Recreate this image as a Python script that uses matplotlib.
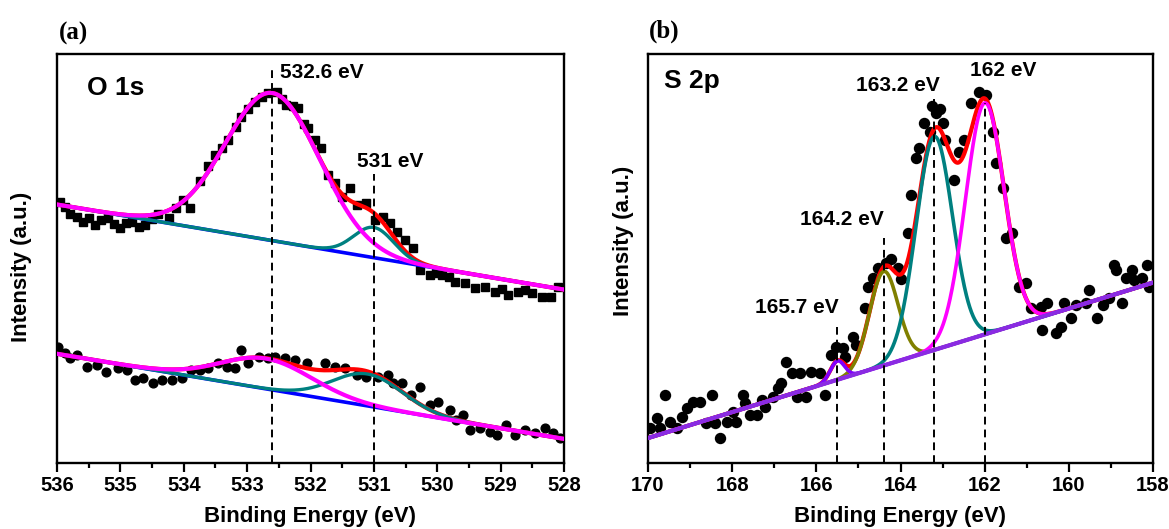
import numpy as np
import matplotlib
matplotlib.use("Agg")
import matplotlib.pyplot as plt
from matplotlib.ticker import MultipleLocator

plt.rcParams['font.family'] = ['Liberation Sans', 'DejaVu Sans']
plt.rcParams['font.weight'] = 'bold'

# ---------------- Panel (a): O 1s ----------------
# upper spectrum (squares)
a_up_x = [535.95, 535.87, 535.79, 535.69, 535.59, 535.50, 535.40, 535.30, 535.19, 535.10,
          535.00, 534.91, 534.82, 534.71, 534.61, 534.50, 534.40, 534.24, 534.12, 534.01,
          533.90, 533.74, 533.62, 533.51, 533.40, 533.30, 533.17, 533.09, 532.98, 532.88,
          532.77, 532.67, 532.53, 532.45, 532.38, 532.28, 532.19, 532.10, 532.04, 531.93,
          531.83, 531.72, 531.62, 531.51, 531.38, 531.27, 531.12, 530.98, 530.85, 530.75,
          530.64, 530.51, 530.38, 530.27, 530.12, 530.02, 529.93, 529.82, 529.72, 529.56,
          529.41, 529.25, 529.09, 528.98, 528.88, 528.72, 528.62, 528.51, 528.35, 528.20,
          528.09]
a_up_y = [63.9, 62.5, 61.0, 60.2, 59.0, 60.0, 58.2, 59.3, 59.8, 58.5,
          57.4, 58.6, 59.0, 57.6, 58.2, 59.6, 61.0, 59.8, 62.4, 64.3,
          62.3, 69.0, 72.5, 75.3, 77.0, 79.0, 82.2, 84.7, 86.5, 88.3,
          89.6, 90.4, 90.8, 89.0, 87.5, 87.2, 86.7, 83.0, 81.8, 79.0,
          77.0, 70.4, 68.5, 65.1, 67.2, 63.1, 63.5, 59.4, 60.2, 58.6,
          56.6, 54.5, 52.5, 47.2, 46.0, 46.5, 46.0, 45.5, 44.3, 43.9,
          42.7, 43.1, 41.9, 42.5, 41.1, 41.9, 42.3, 41.5, 40.7, 40.7,
          43.1]
# lower spectrum (circles)
a_lo_x = [535.98, 535.87, 535.79, 535.69, 535.53, 535.37, 535.22, 535.03, 534.90, 534.77,
          534.64, 534.48, 534.35, 534.19, 534.03, 533.88, 533.74, 533.61, 533.46, 533.32,
          533.19, 533.09, 532.98, 532.82, 532.67, 532.56, 532.40, 532.25, 532.06, 531.77,
          531.62, 531.46, 531.27, 531.12, 530.93, 530.77, 530.70, 530.56, 530.41, 530.27,
          530.12, 529.99, 529.80, 529.70, 529.59, 529.49, 529.33, 529.17, 529.06, 528.91,
          528.78, 528.62, 528.46, 528.30, 528.17, 528.07]
a_lo_y = [28.4, 26.8, 25.6, 26.4, 23.5, 24.0, 22.3, 23.2, 22.7, 20.3,
          20.7, 19.5, 20.3, 20.3, 20.7, 22.7, 22.7, 23.2, 24.4, 23.5,
          23.2, 27.6, 24.4, 26.0, 25.6, 26.0, 25.6, 25.2, 24.4, 24.4,
          23.5, 23.2, 21.5, 21.1, 21.1, 21.5, 19.5, 19.5, 16.6, 18.7,
          14.2, 15.0, 13.0, 10.5, 11.7, 8.1, 8.5, 7.7, 6.8, 9.3,
          6.8, 8.1, 7.3, 8.5, 7.3, 6.0]

# fitted components (a): linear background ends and Gaussian peak parameters
a_up_bg = [63.2, 42.4]          # at 536 and 528 eV
a_up_centers = [532.6, 531.0]
a_up_heights = [36.1, 7.4]
a_up_fwhm = [1.75, 0.75]
a_lo_bg = [26.7, 5.9]
a_lo_centers = [532.7, 531.1]
a_lo_heights = [7.4, 7.8]
a_lo_fwhm = [1.7, 1.3]
a_lines = [532.6, 531.0]
a_line_tops = [96.7, 70.7]

# ---------------- Panel (b): S 2p ----------------
b_x = [169.95, 169.79, 169.72, 169.60, 169.48, 169.32, 169.20, 169.08, 168.93, 168.77,
       168.61, 168.49, 168.41, 168.29, 168.13, 167.98, 167.90, 167.74, 167.70, 167.58,
       167.42, 167.30, 167.23, 167.03, 166.91, 166.83, 166.71, 166.59, 166.47, 166.40,
       166.24, 166.12, 165.92, 165.80, 165.64, 165.53, 165.37, 165.33, 165.13, 165.05,
       164.85, 164.78, 164.66, 164.54, 164.34, 164.22, 164.06, 163.98, 163.83, 163.75,
       163.63, 163.55, 163.43, 163.31, 163.26, 163.15, 163.05, 163.00, 162.95, 162.72,
       162.60, 162.48, 162.32, 162.13, 161.97, 161.81, 161.73, 161.57, 161.49, 161.34,
       161.18, 161.02, 160.90, 160.66, 160.63, 160.51, 160.31, 160.19, 160.11, 159.95,
       159.83, 159.60, 159.52, 159.32, 159.20, 159.04, 158.93, 158.89, 158.73, 158.65,
       158.49, 158.45, 158.26, 158.14, 158.10]
b_y = [8.5, 10.9, 8.5, 16.6, 10.1, 8.5, 11.3, 13.4, 15.0, 15.0,
       9.7, 16.6, 9.7, 6.0, 10.1, 12.5, 10.1, 16.6, 14.6, 11.7,
       11.7, 15.4, 13.8, 16.2, 18.3, 19.5, 24.8, 21.9, 16.2, 21.9,
       16.2, 22.3, 21.9, 16.6, 26.4, 28.4, 28.0, 26.0, 30.9, 28.9,
       37.8, 43.1, 45.2, 47.6, 48.8, 50.0, 47.6, 45.0, 56.2, 65.5,
       74.5, 76.9, 83.1, 81.0, 87.2, 85.5, 86.5, 83.1, 79.0, 69.2,
       76.1, 79.0, 87.9, 90.8, 90.0, 81.0, 73.3, 67.2, 54.9, 56.2,
       43.1, 43.9, 37.8, 38.2, 32.5, 39.0, 31.7, 33.3, 39.0, 35.4,
       38.6, 39.0, 42.3, 35.4, 38.6, 40.3, 48.4, 47.2, 39.0, 45.2,
       47.2, 44.7, 45.2, 48.4, 43.1]
b_bg = [6.1, 44.1]              # at 170 and 158 eV
b_centers = [165.5, 164.4, 163.2, 162.0]
b_heights = [4.6, 23.0, 52.2, 56.6]
b_fwhm = [0.4, 0.8, 1.02, 1.08]
b_colors = ['#8000FF', '#808000', '#008080', '#FF00FF']
b_lines = [165.5, 164.4, 163.2, 162.0]
b_line_tops = [33.2, 55.0, 88.9, 88.0]
b_labels = ['165.7 eV', '164.2 eV', '163.2 eV', '162 eV']
b_label_pos = [(167.45, 38.1), (166.4, 59.6), (165.05, 92.2), (162.35, 95.9)]


def gauss(x, c, h, w):
    s = w / 2.3548
    return h * np.exp(-(x - c) ** 2 / (2 * s * s))


def linbg(x, x0, x1, ends):
    return ends[0] + (ends[1] - ends[0]) * (x - x0) / (x1 - x0)


fig = plt.figure(figsize=(11.69, 5.29), dpi=100)
axA = fig.add_axes([57 / 1169, 1 - 463 / 529, 507 / 1169, 409 / 529])
axB = fig.add_axes([648 / 1169, 1 - 463 / 529, 505 / 1169, 409 / 529])

# ---- draw (a)
xa = np.linspace(536, 528, 800)
axA.plot(a_up_x, a_up_y, 's', color='black', ms=5.6, zorder=2)
axA.plot(a_lo_x, a_lo_y, 'o', color='black', ms=6.3, zorder=2)
for ends, cs, hs, ws in [(a_up_bg, a_up_centers, a_up_heights, a_up_fwhm),
                         (a_lo_bg, a_lo_centers, a_lo_heights, a_lo_fwhm)]:
    bg = linbg(xa, 536, 528, ends)
    p1 = gauss(xa, cs[0], hs[0], ws[0])
    p2 = gauss(xa, cs[1], hs[1], ws[1])
    axA.plot(xa, bg, color='#0000FF', lw=2.6, zorder=3)
    axA.plot(xa, bg + p1 + p2, color='#FF0000', lw=3.0, zorder=4)
    axA.plot(xa, bg + p2, color='#008080', lw=2.4, zorder=5)
    axA.plot(xa, bg + p1, color='#FF00FF', lw=3.0, zorder=6)
for xl, yt in zip(a_lines, a_line_tops):
    axA.plot([xl, xl], [0, yt], color='black', lw=1.4, dashes=(4, 2.6), zorder=7)
axA.text(535.52, 91.6, 'O 1s', fontsize=19, fontweight='bold', va='center', ha='left')
axA.text(532.48, 95.5, '532.6 eV', fontsize=15, fontweight='bold', va='center', ha='left')
axA.text(531.27, 73.8, '531 eV', fontsize=15, fontweight='bold', va='center', ha='left')
axA.set_xlim(536, 528)
axA.xaxis.set_major_locator(MultipleLocator(1))
axA.xaxis.set_minor_locator(MultipleLocator(0.5))

# ---- draw (b)
xb = np.linspace(170, 158, 1200)
bgb = linbg(xb, 170, 158, b_bg)
comps = [gauss(xb, c, h, w) for c, h, w in zip(b_centers, b_heights, b_fwhm)]
axB.plot(b_x, b_y, 'o', color='black', ms=7.2, zorder=2)
axB.plot(xb, bgb + sum(comps), color='#FF0000', lw=3.0, zorder=3)
zs = [7, 4, 5, 6]
for comp, col, z in zip(comps, b_colors, zs):
    axB.plot(xb, bgb + comp, color=col, lw=2.6, zorder=z)
axB.plot(xb, bgb, color='#8A2BE2', lw=3.0, zorder=8)
for xl, yt in zip(b_lines, b_line_tops):
    axB.plot([xl, xl], [0, yt], color='black', lw=1.4, dashes=(4, 2.6), zorder=9)
for lab, (lx, ly) in zip(b_labels, b_label_pos):
    axB.text(lx, ly, lab, fontsize=15, fontweight='bold', va='center', ha='left')
axB.text(169.62, 93.4, 'S 2p', fontsize=19, fontweight='bold', va='center', ha='left')
axB.set_xlim(170, 158)
axB.xaxis.set_major_locator(MultipleLocator(2))
axB.xaxis.set_minor_locator(MultipleLocator(1))

for ax in (axA, axB):
    ax.set_ylim(0, 100)
    ax.set_yticks([])
    for sp in ax.spines.values():
        sp.set_linewidth(1.7)
    ax.tick_params(axis='x', which='major', direction='out', length=6.5, width=1.6,
                   labelsize=14.5, pad=3)
    ax.tick_params(axis='x', which='minor', direction='out', length=3.5, width=1.6)
    for t in ax.get_xticklabels():
        t.set_fontweight('bold')
    ax.set_xlabel('Binding Energy (eV)', fontsize=16, fontweight='bold', labelpad=8)
    ax.set_ylabel('Intensity (a.u.)', fontsize=16, fontweight='bold')

axA.yaxis.set_label_coords(-0.049, 0.479)
axB.yaxis.set_label_coords(-0.028, 0.543)

fig.text(59 / 1169, 1 - 33 / 529, '(a)', fontsize=18, fontweight='bold',
         family=['Liberation Serif', 'DejaVu Serif'], va='center', ha='left')
fig.text(649 / 1169, 1 - 31 / 529, '(b)', fontsize=18, fontweight='bold',
         family=['Liberation Serif', 'DejaVu Serif'], va='center', ha='left')

fig.savefig('out.png', dpi=100)
